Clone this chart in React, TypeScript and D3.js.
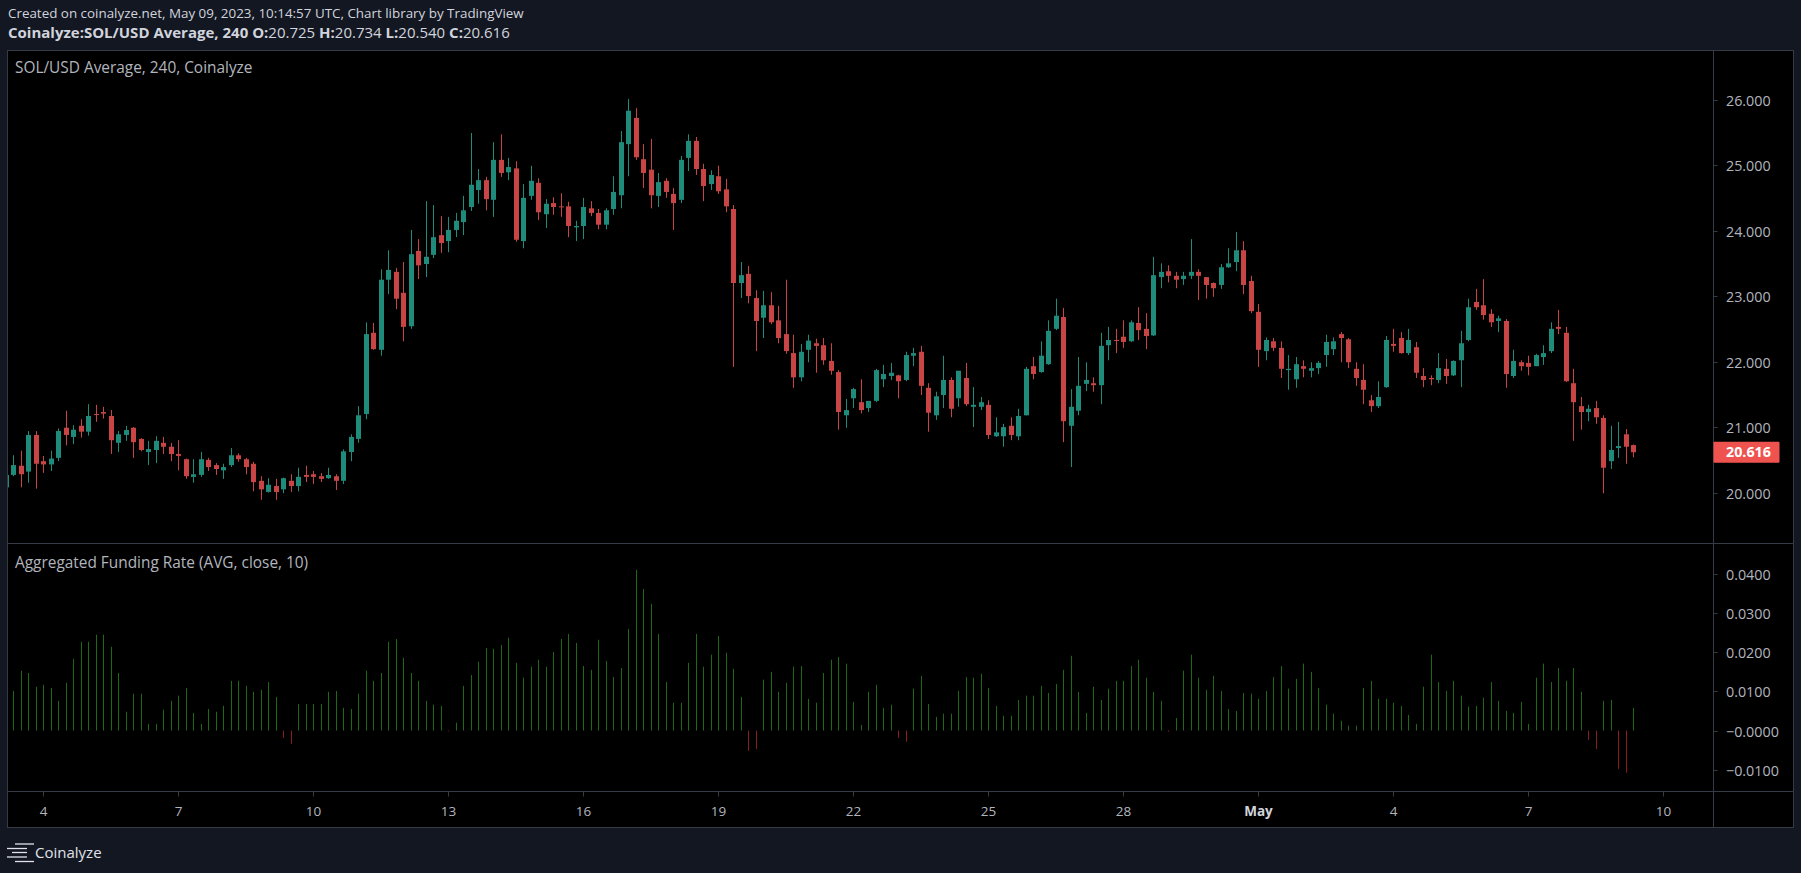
import { FC, useEffect, useRef } from "react";
import * as d3 from "d3";

// 4h candles from Apr 3 04:00 UTC to May 9 08:00 UTC
const firstCandle = "2023-04-03T04:00:00Z";
const candleHours = 4;

// [open, high, low, close]
const ohlc: number[][] = [
  [20.08, 20.3, 20.05, 20.27], [20.27, 20.57, 20.25, 20.42], [20.41, 20.64, 20.08, 20.28], [20.32, 20.94, 20.15, 20.88],
  [20.88, 20.94, 20.06, 20.44], [20.48, 20.56, 20.3, 20.43], [20.43, 20.64, 20.33, 20.52], [20.53, 20.98, 20.48, 20.94],
  [20.99, 21.25, 20.72, 20.88], [20.85, 21.03, 20.74, 20.96], [21.02, 21.12, 20.84, 20.93], [20.93, 21.35, 20.87, 21.17],
  [21.2, 21.34, 21.08, 21.19], [21.23, 21.31, 21.13, 21.205], [21.17, 21.26, 20.59, 20.8], [20.76, 20.94, 20.62, 20.89],
  [20.88, 21.02, 20.79, 20.955], [20.99, 21.0, 20.53, 20.77], [20.82, 20.83, 20.63, 20.65], [20.62, 20.79, 20.42, 20.665],
  [20.65, 20.86, 20.45, 20.79], [20.76, 20.85, 20.59, 20.7], [20.7, 20.76, 20.48, 20.59], [20.59, 20.8, 20.34, 20.56],
  [20.51, 20.52, 20.21, 20.25], [20.24, 20.51, 20.15, 20.28], [20.27, 20.62, 20.24, 20.51], [20.5, 20.53, 20.33, 20.39],
  [20.42, 20.45, 20.27, 20.36], [20.34, 20.44, 20.21, 20.39], [20.42, 20.68, 20.39, 20.57], [20.57, 20.6, 20.47, 20.51],
  [20.51, 20.53, 20.28, 20.39], [20.44, 20.47, 20.02, 20.16], [20.18, 20.25, 19.89, 20.05], [20.01, 20.22, 20.0, 20.12],
  [20.1, 20.21, 19.89, 20.01], [20.05, 20.23, 19.99, 20.22], [20.18, 20.28, 20.01, 20.1], [20.1, 20.38, 20.02, 20.24],
  [20.27, 20.41, 20.16, 20.24], [20.28, 20.33, 20.13, 20.24], [20.25, 20.3, 20.16, 20.21], [20.22, 20.38, 20.21, 20.27],
  [20.25, 20.28, 20.04, 20.18], [20.18, 20.66, 20.13, 20.63], [20.62, 20.89, 20.48, 20.85], [20.82, 21.32, 20.76, 21.18],
  [21.2, 22.6, 21.12, 22.42], [22.44, 22.59, 22.18, 22.19], [22.18, 23.41, 22.09, 23.25], [23.25, 23.7, 23.03, 23.4],
  [23.37, 23.43, 22.8, 22.96], [23.05, 23.52, 22.31, 22.53], [22.54, 24.01, 22.5, 23.64], [23.69, 23.87, 23.26, 23.47],
  [23.49, 24.45, 23.29, 23.6], [23.63, 24.39, 23.58, 23.9], [23.93, 24.22, 23.66, 23.81], [23.84, 24.21, 23.67, 24.01],
  [24.01, 24.27, 23.9, 24.15], [24.13, 24.53, 23.93, 24.31], [24.36, 25.49, 24.3, 24.7], [24.62, 24.94, 24.41, 24.77],
  [24.77, 24.82, 24.31, 24.48], [24.47, 25.35, 24.21, 25.08], [25.08, 25.47, 24.82, 24.88], [24.89, 25.11, 24.77, 24.97],
  [24.95, 25.06, 23.83, 23.86], [23.84, 24.71, 23.73, 24.5], [24.53, 24.99, 24.47, 24.76], [24.73, 24.8, 24.16, 24.28],
  [24.25, 24.48, 24.04, 24.41], [24.42, 24.51, 24.24, 24.36], [24.37, 24.57, 24.21, 24.36], [24.37, 24.44, 23.9, 24.07],
  [24.05, 24.15, 23.84, 24.07], [24.07, 24.5, 23.87, 24.36], [24.34, 24.45, 24.22, 24.27], [24.27, 24.33, 24.02, 24.09],
  [24.09, 24.34, 24.02, 24.31], [24.33, 24.83, 24.24, 24.59], [24.54, 25.52, 24.34, 25.35], [25.32, 26.01, 24.83, 25.83],
  [25.72, 25.87, 25.08, 25.12], [25.09, 25.32, 24.65, 24.88], [24.93, 25.4, 24.34, 24.54], [24.53, 24.88, 24.36, 24.74],
  [24.76, 24.8, 24.5, 24.59], [24.56, 24.65, 24.01, 24.42], [24.47, 25.14, 24.42, 25.08], [25.11, 25.47, 24.91, 25.37],
  [25.37, 25.43, 24.85, 24.94], [24.94, 25.02, 24.45, 24.68], [24.71, 24.92, 24.62, 24.85], [24.83, 24.99, 24.56, 24.6],
  [24.63, 24.79, 24.28, 24.37], [24.33, 24.39, 21.92, 23.2], [23.2, 23.52, 22.97, 23.32], [23.34, 23.46, 22.89, 23.0],
  [22.97, 23.09, 22.16, 22.62], [22.67, 23.08, 22.36, 22.86], [22.86, 23.06, 22.57, 22.6], [22.63, 22.85, 22.28, 22.36],
  [22.42, 23.25, 22.12, 22.16], [22.13, 22.41, 21.6, 21.76], [21.76, 22.27, 21.7, 22.15], [22.18, 22.41, 21.99, 22.32],
  [22.28, 22.35, 21.83, 22.24], [22.25, 22.36, 21.95, 22.02], [22.01, 22.28, 21.8, 21.86], [21.84, 21.87, 20.96, 21.23],
  [21.18, 21.43, 20.99, 21.26], [21.44, 21.6, 21.29, 21.58], [21.38, 21.73, 21.21, 21.26], [21.29, 21.4, 21.23, 21.4],
  [21.4, 21.89, 21.38, 21.87], [21.73, 21.95, 21.61, 21.81], [21.78, 21.98, 21.72, 21.83], [21.79, 21.8, 21.44, 21.7],
  [21.72, 22.15, 21.7, 22.1], [22.09, 22.21, 21.93, 22.13], [22.15, 22.24, 21.49, 21.63], [21.6, 21.67, 20.93, 21.22],
  [21.18, 21.54, 21.11, 21.47], [21.49, 22.09, 21.29, 21.72], [21.72, 21.76, 21.15, 21.28], [21.44, 21.86, 21.31, 21.86],
  [21.75, 21.98, 21.32, 21.35], [21.31, 21.61, 21.0, 21.34], [21.31, 21.46, 21.26, 21.38], [21.34, 21.41, 20.82, 20.88],
  [20.86, 21.15, 20.85, 20.92], [20.86, 21.05, 20.7, 21.0], [21.02, 21.15, 20.8, 20.88], [20.86, 21.28, 20.8, 21.17],
  [21.18, 21.92, 21.18, 21.89], [21.93, 22.07, 21.73, 21.81], [21.84, 22.31, 21.83, 22.09], [21.96, 22.63, 21.95, 22.47],
  [22.5, 22.96, 22.48, 22.7], [22.68, 22.82, 20.77, 21.09], [21.02, 21.58, 20.39, 21.31], [21.25, 22.07, 21.18, 21.63],
  [21.66, 21.99, 21.55, 21.72], [21.67, 21.76, 21.54, 21.64], [21.64, 22.44, 21.35, 22.24], [22.25, 22.53, 22.02, 22.33],
  [22.33, 22.5, 22.13, 22.32], [22.38, 22.63, 22.21, 22.3], [22.31, 22.63, 22.3, 22.6], [22.59, 22.83, 22.33, 22.48],
  [22.5, 22.74, 22.19, 22.39], [22.4, 23.6, 22.39, 23.32], [23.29, 23.5, 23.12, 23.37], [23.38, 23.47, 23.21, 23.31],
  [23.31, 23.37, 23.12, 23.25], [23.26, 23.37, 23.17, 23.31], [23.31, 23.87, 23.26, 23.37], [23.37, 23.41, 22.94, 23.31],
  [23.29, 23.29, 22.96, 23.17], [23.2, 23.21, 22.99, 23.12], [23.17, 23.49, 23.11, 23.44], [23.44, 23.73, 23.43, 23.5],
  [23.52, 23.98, 23.38, 23.7], [23.7, 23.84, 23.03, 23.17], [23.23, 23.31, 22.74, 22.77], [22.76, 22.88, 21.92, 22.18],
  [22.16, 22.37, 22.02, 22.33], [22.31, 22.36, 22.16, 22.21], [22.21, 22.31, 21.75, 21.89], [21.87, 22.1, 21.57, 21.89],
  [21.73, 22.07, 21.6, 21.96], [21.93, 22.02, 21.76, 21.89], [21.86, 21.99, 21.76, 21.9], [21.9, 22.01, 21.81, 21.98],
  [22.1, 22.41, 21.92, 22.3], [22.19, 22.37, 22.1, 22.31], [22.42, 22.45, 21.99, 22.36], [22.34, 22.36, 21.9, 21.99],
  [21.89, 21.99, 21.63, 21.75], [21.72, 21.96, 21.35, 21.57], [21.41, 21.49, 21.23, 21.32], [21.32, 21.7, 21.29, 21.46],
  [21.61, 22.39, 21.6, 22.33], [22.27, 22.5, 22.15, 22.24], [22.36, 22.45, 22.12, 22.13], [22.13, 22.5, 22.1, 22.33],
  [22.22, 22.3, 21.75, 21.83], [21.78, 21.9, 21.61, 21.72], [21.75, 21.79, 21.64, 21.73], [21.72, 22.13, 21.67, 21.9],
  [21.89, 22.04, 21.66, 21.78], [21.79, 22.02, 21.78, 22.01], [22.02, 22.47, 21.61, 22.28], [22.33, 22.96, 22.31, 22.83],
  [22.91, 23.11, 22.79, 22.83], [22.86, 23.26, 22.64, 22.71], [22.73, 22.8, 22.53, 22.6], [22.62, 22.7, 22.45, 22.66],
  [22.62, 22.65, 21.6, 21.81], [21.78, 22.18, 21.75, 22.01], [21.99, 22.02, 21.86, 21.93], [21.98, 22.09, 21.79, 21.92],
  [21.93, 22.12, 21.93, 22.1], [22.07, 22.25, 21.95, 22.13], [22.16, 22.6, 22.13, 22.5], [22.53, 22.79, 22.42, 22.5],
  [22.44, 22.53, 21.69, 21.7], [21.67, 21.89, 20.79, 21.38], [21.32, 21.46, 20.96, 21.23], [21.23, 21.34, 21.09, 21.28],
  [21.29, 21.4, 21.05, 21.15], [21.14, 21.18, 19.99, 20.38], [20.48, 21.02, 20.36, 20.65], [20.68, 21.08, 20.53, 20.71],
  [20.89, 20.97, 20.44, 20.7], [20.725, 20.734, 20.54, 20.616],
];

// aggregated funding rate, one value per candle
const funding: number[] = [
  0.01, 0.0101, 0.0153, 0.0147, 0.0112, 0.0117, 0.0109, 0.0076, 0.0122, 0.0183, 0.0227, 0.0227, 0.0245, 0.0245,
  0.0214, 0.0147, 0.0048, 0.0094, 0.0094, 0.0017, 0.0017, 0.0053, 0.0076, 0.0089, 0.0109, 0.0045, 0.0017, 0.0055,
  0.0048, 0.0063, 0.0127, 0.0127, 0.0114, 0.0099, 0.0104, 0.0124, 0.0086, -0.0019, -0.0034, 0.0068, 0.0068, 0.0068,
  0.0068, 0.0099, 0.0101, 0.0058, 0.0055, 0.0094, 0.0153, 0.0127, 0.0147, 0.0227, 0.0234, 0.0186, 0.0147, 0.0127,
  0.0076, 0.0066, 0.0063, -0.0002, 0.002, 0.0114, 0.0142, 0.0176, 0.0211, 0.0209, 0.0219, 0.0237, 0.0173, 0.0135,
  0.0163, 0.0181, 0.0163, 0.0201, 0.0234, 0.0247, 0.0224, 0.0165, 0.0155, 0.0232, 0.0178, 0.0137, 0.016, 0.026,
  0.0411, 0.0362, 0.0324, 0.0247, 0.0124, 0.0071, 0.0071, 0.0173, 0.0247, 0.0163, 0.0194, 0.0242, 0.0199, 0.0158,
  0.0086, -0.0052, -0.0047, 0.013, 0.015, 0.0099, 0.0122, 0.0163, 0.0165, 0.0081, 0.0071, 0.0147, 0.0181, 0.0188,
  0.0171, 0.0073, 0.0014, 0.0099, 0.0117, 0.0058, 0.0066, -0.0019, -0.0029, 0.0107, 0.014, 0.0068, 0.0035, 0.0043,
  0.0043, 0.0101, 0.0137, 0.0135, 0.0145, 0.0109, 0.0063, 0.0038, 0.0038, 0.0078, 0.0089, 0.0089, 0.0114, 0.0096,
  0.0119, 0.0155, 0.0191, 0.0099, 0.0045, 0.0112, 0.0078, 0.0107, 0.0127, 0.0127, 0.0165, 0.0181, 0.0135, 0.0099,
  0.0076, -0.0003, 0.0032, 0.0153, 0.0194, 0.0135, 0.0104, 0.014, 0.0101, 0.0055, 0.005, 0.0096, 0.0094, 0.0081,
  0.0101, 0.0137, 0.0165, 0.0107, 0.0132, 0.0171, 0.015, 0.0109, 0.0066, 0.0043, 0.0025, 0.0012, 0.0012, 0.0109,
  0.0127, 0.0081, 0.0081, 0.0071, 0.0063, 0.004, 0.0017, 0.0112, 0.0194, 0.0124, 0.0101, 0.0127, 0.0089, 0.0061,
  0.0063, 0.0084, 0.0124, 0.0076, 0.005, 0.0045, 0.0073, 0.0017, 0.0135, 0.0171, 0.0124, 0.016, 0.0127, 0.016,
  0.0099, -0.0024, -0.0047, 0.0076, 0.0078, -0.0098, -0.0108, 0.0058,
];

const priceTicks = [20, 21, 22, 23, 24, 25, 26];
const fundingTicks = [0.04, 0.03, 0.02, 0.01, 0, -0.01];
const fundingTickLabels = ["0.0400", "0.0300", "0.0200", "0.0100", "\u22120.0000", "\u22120.0100"];
const dayTicks = [
  "2023-04-04", "2023-04-07", "2023-04-10", "2023-04-13", "2023-04-16", "2023-04-19", "2023-04-22",
  "2023-04-25", "2023-04-28", "2023-05-01", "2023-05-04", "2023-05-07", "2023-05-10",
];

const W = 1801;
const H = 873;
const FONT = "'Open Sans', 'Noto Sans', sans-serif";
const UP = "#1f8b7b";
const DOWN = "#c94444";
const BORDER = "#363a45";
const LABEL = "#b2b5be";

const App: FC = () => {
  const ref = useRef<SVGSVGElement>(null);

  const runChart = () => {
    const svg = d3.select(ref.current);
    svg.selectAll("*").remove();

    const frame = { left: 7.5, top: 50.5, right: 1793.5, bottom: 827.5 };
    const axisX = 1713.5; // price scale separator
    const paneSplit = 543.5;
    const timeAxisY = 791.5;

    const t0 = new Date(firstCandle);
    const times = ohlc.map((_, i) => new Date(t0.getTime() + i * candleHours * 3600e3));

    const x = d3
      .scaleUtc()
      .domain([new Date("2023-04-04T00:00:00Z"), new Date("2023-05-10T00:00:00Z")])
      .range([43.3, 1663.3]);
    const y = d3.scaleLinear().domain([20, 26]).range([492.6, 99.6]);
    const yf = d3.scaleLinear().domain([-0.01, 0.04]).range([769.6, 574.1]);

    svg.append("rect").attr("width", W).attr("height", H).attr("fill", "#131722");
    svg
      .append("rect")
      .attr("x", frame.left)
      .attr("y", frame.top)
      .attr("width", frame.right - frame.left)
      .attr("height", frame.bottom - frame.top)
      .attr("fill", "#000")
      .attr("stroke", BORDER);

    const defs = svg.append("defs");
    defs
      .append("clipPath")
      .attr("id", "clipPrice")
      .append("rect")
      .attr("x", frame.left + 0.5)
      .attr("y", frame.top + 0.5)
      .attr("width", axisX - frame.left - 1)
      .attr("height", paneSplit - frame.top - 1);
    defs
      .append("clipPath")
      .attr("id", "clipFunding")
      .append("rect")
      .attr("x", frame.left + 0.5)
      .attr("y", paneSplit + 0.5)
      .attr("width", axisX - frame.left - 1)
      .attr("height", timeAxisY - paneSplit - 1);

    // separators
    const sep = svg.append("g").attr("stroke", BORDER).attr("stroke-width", 1);
    sep.append("line").attr("x1", axisX).attr("x2", axisX).attr("y1", frame.top).attr("y2", frame.bottom);
    sep.append("line").attr("x1", frame.left).attr("x2", frame.right).attr("y1", paneSplit).attr("y2", paneSplit);
    sep.append("line").attr("x1", frame.left).attr("x2", frame.right).attr("y1", timeAxisY).attr("y2", timeAxisY);

    // candles
    const cx = (i: number) => Math.round(x(times[i]));
    const candles = svg
      .append("g")
      .attr("clip-path", "url(#clipPrice)")
      .selectAll("g")
      .data(ohlc)
      .join("g")
      .attr("fill", (d) => (d[3] >= d[0] ? UP : DOWN))
      .attr("stroke", (d) => (d[3] >= d[0] ? UP : DOWN));
    candles
      .append("line")
      .attr("x1", (_, i) => cx(i) + 0.5)
      .attr("x2", (_, i) => cx(i) + 0.5)
      .attr("y1", (d) => y(d[1]))
      .attr("y2", (d) => y(d[2]));
    candles
      .append("rect")
      .attr("stroke", "none")
      .attr("x", (_, i) => cx(i) - 2)
      .attr("width", 5)
      .attr("y", (d) => y(Math.max(d[0], d[3])))
      .attr("height", (d) => Math.max(1, Math.abs(y(d[0]) - y(d[3]))));

    // funding histogram
    svg
      .append("g")
      .attr("clip-path", "url(#clipFunding)")
      .selectAll("line")
      .data(funding)
      .join("line")
      .attr("x1", (_, i) => cx(i) + 0.5)
      .attr("x2", (_, i) => cx(i) + 0.5)
      .attr("y1", yf(0))
      .attr("y2", (d) => yf(d))
      .attr("stroke", (d) => (d >= 0 ? "#1e6a12" : "#8a1c1c"))
      .attr("stroke-width", 1);

    // price scale
    const pAxis = svg.append("g").attr("font-family", FONT).attr("font-size", 14.3).attr("fill", LABEL);
    priceTicks.forEach((p) => {
      const yy = Math.round(y(p)) + 0.5;
      pAxis.append("line").attr("x1", axisX).attr("x2", axisX + 4).attr("y1", yy).attr("y2", yy).attr("stroke", BORDER);
      pAxis.append("text").attr("x", 1726).attr("y", yy).attr("dy", "0.35em").text(d3.format(".3f")(p));
    });
    fundingTicks.forEach((f, i) => {
      const yy = Math.round(yf(f)) + 0.5;
      pAxis.append("line").attr("x1", axisX).attr("x2", axisX + 4).attr("y1", yy).attr("y2", yy).attr("stroke", BORDER);
      pAxis.append("text").attr("x", 1726).attr("y", yy).attr("dy", "0.35em").text(fundingTickLabels[i]);
    });

    // last price marker
    const last = ohlc[ohlc.length - 1];
    const ly = y(last[3]);
    svg
      .append("rect")
      .attr("x", axisX)
      .attr("y", ly - 10.5)
      .attr("width", 66)
      .attr("height", 21)
      .attr("rx", 1)
      .attr("fill", "#ef5350");
    svg
      .append("text")
      .attr("x", 1726)
      .attr("y", ly)
      .attr("dy", "0.35em")
      .attr("font-family", FONT)
      .attr("font-size", 14.3)
      .attr("font-weight", "bold")
      .attr("fill", "#fff")
      .text(d3.format(".3f")(last[3]));

    // time scale
    const tAxis = svg.append("g").attr("font-family", FONT).attr("font-size", 13.5).attr("text-anchor", "middle");
    dayTicks.forEach((s) => {
      const d = new Date(s + "T00:00:00Z");
      const xx = Math.round(x(d)) + 0.5;
      const monthStart = d.getUTCDate() === 1;
      tAxis.append("line").attr("x1", xx).attr("x2", xx).attr("y1", timeAxisY).attr("y2", timeAxisY + 5).attr("stroke", BORDER);
      tAxis
        .append("text")
        .attr("x", xx)
        .attr("y", 816)
        .attr("fill", monthStart ? "#d1d4dc" : LABEL)
        .attr("font-weight", monthStart ? "bold" : "normal")
        .text(monthStart ? d3.utcFormat("%b")(d) : d3.utcFormat("%-d")(d));
    });

    // pane titles
    svg
      .append("text")
      .attr("x", 15)
      .attr("y", 73)
      .attr("font-family", FONT)
      .attr("font-size", 15.4)
      .attr("fill", LABEL)
      .text("SOL/USD Average, 240, Coinalyze");
    svg
      .append("text")
      .attr("x", 15)
      .attr("y", 568)
      .attr("font-family", FONT)
      .attr("font-size", 15.4)
      .attr("fill", LABEL)
      .text("Aggregated Funding Rate (AVG, close, 10)");

    // header
    const head = svg.append("g").attr("font-family", FONT).attr("fill", "#d1d4dc");
    head
      .append("text")
      .attr("x", 8)
      .attr("y", 17.5)
      .attr("font-size", 13.4)
      .text("Created on coinalyze.net, May 09, 2023, 10:14:57 UTC, Chart library by TradingView");
    const l2 = head.append("text").attr("x", 8).attr("y", 38).attr("font-size", 15).style("white-space", "pre");
    l2.append("tspan").attr("font-weight", "bold").text("Coinalyze:SOL/USD Average, 240 ");
    const f3 = d3.format(".3f");
    [["O", last[0]], ["H", last[1]], ["L", last[2]], ["C", last[3]]].forEach(([k, v], i) => {
      l2.append("tspan").attr("font-weight", "bold").text(`${k}:`);
      l2.append("tspan").text(f3(v as number) + (i < 3 ? " " : ""));
    });

    // footer logo
    const logo = svg.append("g").attr("stroke", "#e0e3eb").attr("stroke-width", 1.3);
    [
      [15, 34, 844],
      [7, 27, 848.5],
      [12, 27, 852.5],
      [7, 27, 857],
      [15, 34, 861.5],
    ].forEach(([a, b, yy]) => logo.append("line").attr("x1", a).attr("x2", b).attr("y1", yy).attr("y2", yy));
    svg
      .append("text")
      .attr("x", 35)
      .attr("y", 858)
      .attr("font-family", FONT)
      .attr("font-size", 15)
      .attr("fill", "#e0e3eb")
      .text("Coinalyze");
  };

  useEffect(() => {
    runChart();
  }, []);

  return (
    <svg
      ref={ref}
      width={W}
      height={H}
      style={{ position: "absolute", left: 0, top: 0, display: "block" }}
    />
  );
};

export default App;
